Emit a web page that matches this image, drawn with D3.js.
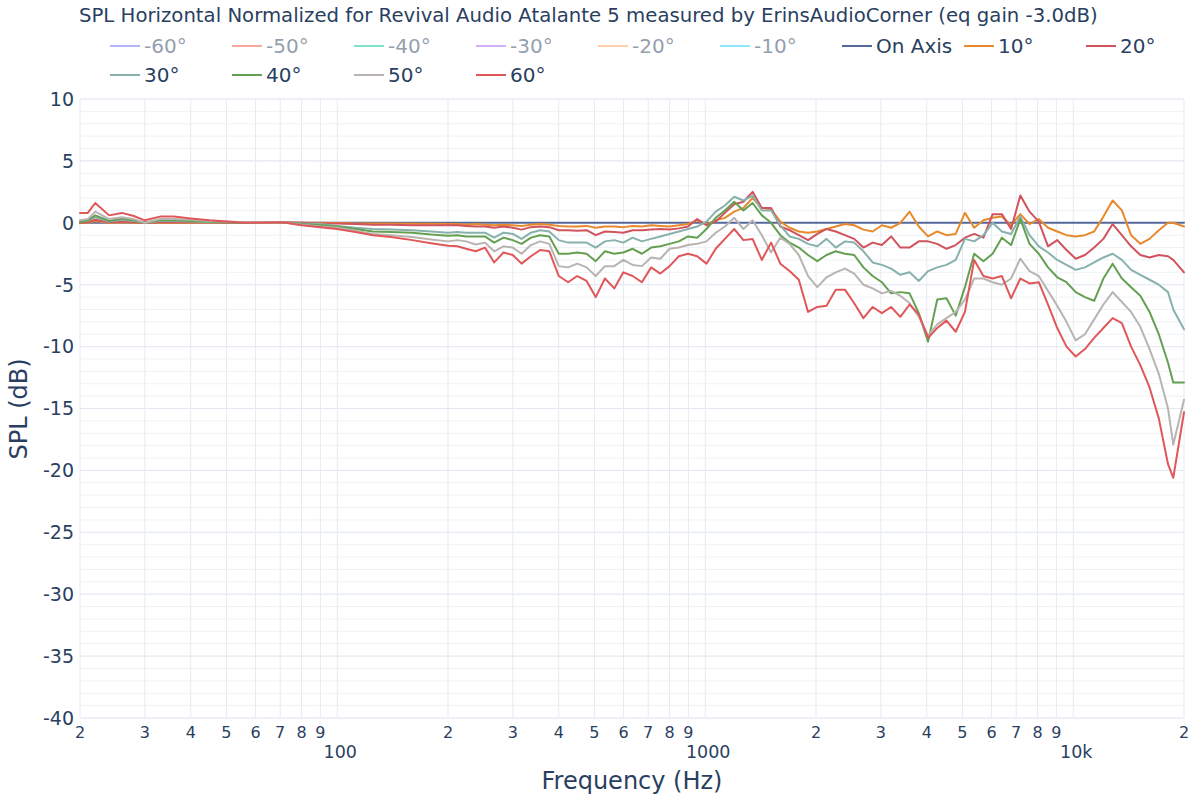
<!DOCTYPE html>
<html><head><meta charset="utf-8">
<script src="https://cdn.jsdelivr.net/npm/d3@7"></script>
<style>
body{margin:0;background:#fff}
svg{display:block;font-family:"DejaVu Sans",Verdana,sans-serif}
</style>
</head><body>
<svg id="chart" width="1200" height="800"></svg>
<script>
// ---- data ----
const freqs = [20,21,22,24,26,28,30,33,36,40,45,50,56,63,71,80,90,100,112,125,140,160,180,
200,212,224,238,252,267,283,300,317,336,356,377,400,424,449,476,504,534,566,599,635,673,713,755,800,848,898,951,1008,1068,1131,1199,1270,1345,1425,1510,1600,1695,1796,1903,2016,2136,2263,2397,2540,2691,2851,3020,3200,3390,3592,3805,4032,4271,4525,4794,5079,5381,5701,6040,6399,6779,7182,7609,8062,8541,9049,9587,10157,10761,11401,12079,12797,13558,14364,15218,16123,17081,18097,18700,20000];

const onAxis = [0,0,0,0,0,0,0,0,0,0,0,0,0,0,0,0,0,0,0,0,0,0,0,
0,0,0,0,0,0,0,0,0,0,0,0,0,0,0,0,0,0,0,0,0,0,0,0,0,0,0,0,0,0,0,0,0,0,0,0,0,0,0,0,0,0,0,0,0,0,0,0,0,0,0,0,0,0,0,0,0,0,0,0,0,0,0,0,0,0,0,0,0,0,0,0,0,0,0,0,0,0,0,0,0];

const deg10 = [0.0,0.0,0.15,0.0,0.05,0.0,0.0,0.0,0.0,0.0,0.0,0.0,0.0,0.0,0.03,0.0,0.0,-0.02,-0.05,-0.05,-0.05,-0.08,-0.08,
-0.1,-0.1,-0.15,-0.1,-0.15,-0.2,-0.15,-0.2,-0.25,-0.15,
-0.1,-0.15,-0.25,-0.3,-0.3,-0.25,-0.4,-0.3,-0.3,-0.35,
-0.25,-0.3,-0.2,-0.25,-0.3,-0.2,-0.1,0.2,-0.15,0.2,
0.4,0.9,1.2,2.0,1.2,1.1,0.1,-0.4,-0.7,-0.8,
-0.7,-0.5,-0.3,-0.1,-0.2,-0.55,-0.7,-0.2,-0.4,0.0,
0.9,-0.3,-1.1,-0.7,-1.0,-0.9,0.8,-0.4,0.2,0.4,
0.5,-0.2,0.7,-0.1,0.3,-0.4,-0.7,-1.0,-1.1,-1.0,
-0.7,0.5,1.8,1.0,-1.0,-1.7,-1.3,-0.6,0.0,0.0,
-0.3];

const deg20 = [0.0,0.05,0.25,0.05,0.1,0.05,0.0,0.05,0.05,0.05,0.05,0.0,0.0,0.0,0.05,0.0,-0.05,-0.05,-0.1,-0.15,-0.15,-0.2,-0.2,
-0.2,-0.2,-0.25,-0.3,-0.3,-0.4,-0.3,-0.4,-0.55,-0.35,
-0.3,-0.35,-0.6,-0.6,-0.65,-0.6,-1.0,-0.7,-0.75,-0.8,
-0.6,-0.6,-0.55,-0.5,-0.55,-0.45,-0.3,0.3,-0.2,0.1,
0.8,1.5,1.7,2.5,1.2,1.2,-0.3,-0.6,-1.0,-1.4,
-0.9,-0.5,-0.7,-1.0,-1.3,-2.0,-1.6,-1.8,-1.1,-2.0,
-2.0,-1.5,-1.5,-1.7,-2.1,-1.8,-1.2,-0.9,-1.2,0.7,
0.7,-0.5,2.2,0.9,0.1,-1.9,-1.4,-2.2,-2.9,-2.6,
-2.0,-1.3,-0.1,-1.0,-1.9,-2.6,-2.8,-2.6,-2.7,-3.0,
-4.0];

const deg30 = [0.1,0.15,0.45,0.1,0.25,0.15,0.0,0.15,0.15,0.1,0.05,0.05,0.0,0.0,0.05,-0.05,-0.1,-0.25,-0.4,-0.5,-0.55,-0.6,-0.7,
-0.8,-0.75,-0.8,-0.8,-0.8,-1.2,-0.8,-0.9,-1.3,-0.8,
-0.6,-0.7,-1.4,-1.6,-1.6,-1.6,-2.0,-1.5,-1.4,-1.6,
-1.2,-1.5,-1.3,-1.1,-0.9,-0.7,-0.5,-0.3,0.1,0.9,
1.4,2.1,1.8,2.2,1.0,1.0,-0.2,-1.1,-1.3,-1.7,
-1.9,-1.3,-2.0,-1.5,-1.6,-2.3,-3.2,-3.4,-3.7,-4.2,
-4.0,-4.7,-3.9,-3.6,-3.4,-3.0,-1.3,-1.5,-1.0,0.0,
-0.7,-0.9,0.5,-1.0,-1.9,-2.4,-3.0,-3.4,-3.8,-3.6,
-3.2,-2.8,-2.5,-3.0,-3.8,-4.2,-4.6,-5.0,-5.6,-7.0,
-8.6];

const deg40 = [0.05,0.2,0.6,0.15,0.35,0.2,0.0,0.2,0.2,0.15,0.1,0.05,0.0,0.0,0.05,-0.1,-0.2,-0.3,-0.5,-0.7,-0.75,-0.8,-0.95,
-1.05,-1.0,-1.1,-1.1,-1.1,-1.6,-1.2,-1.4,-1.7,-1.2,
-1.0,-1.1,-2.5,-2.5,-2.4,-2.5,-3.1,-2.3,-2.5,-2.4,
-2.1,-2.5,-2.0,-1.9,-1.7,-1.5,-1.1,-1.2,-0.5,0.4,
1.0,1.7,1.0,1.6,0.6,0.0,-1.0,-1.6,-2.0,-2.6,
-3.1,-2.6,-2.3,-2.5,-2.6,-3.6,-4.3,-4.8,-5.7,-5.6,
-5.7,-7.3,-9.6,-6.2,-6.1,-7.5,-5.2,-2.5,-3.1,-2.5,
-1.2,-1.8,0.3,-1.7,-2.5,-3.6,-4.4,-4.8,-5.6,-6.0,
-6.3,-4.5,-3.3,-4.5,-5.2,-5.9,-7.2,-9.0,-11.3,-12.9,
-12.9];

const deg50 = [0.2,0.3,0.9,0.3,0.45,0.3,0.0,0.3,0.3,0.25,0.15,0.1,0.05,0.0,0.05,-0.15,-0.3,-0.4,-0.65,-0.9,-1.0,-1.15,-1.35,
-1.5,-1.4,-1.5,-1.75,-1.6,-2.3,-1.9,-2.0,-2.5,-1.8,
-1.5,-1.7,-3.5,-3.6,-3.3,-3.6,-4.3,-3.5,-3.5,-3.0,
-3.4,-3.5,-2.8,-2.9,-2.1,-2.0,-1.8,-1.7,-1.5,-0.8,
-0.3,0.4,-0.5,0.2,-1.0,-2.4,-1.2,-1.7,-2.6,-4.3,
-5.2,-4.4,-4.0,-3.7,-4.1,-5.0,-5.3,-5.7,-5.5,-5.9,
-6.5,-7.6,-9.1,-8.2,-7.7,-7.2,-6.2,-4.5,-4.5,-4.8,
-5.0,-4.5,-2.9,-3.9,-4.3,-5.5,-6.7,-8.0,-9.5,-9.0,
-7.8,-6.6,-5.6,-6.4,-7.2,-8.4,-10.2,-12.2,-15.0,-17.9,
-14.3];

const deg60 = [0.8,0.8,1.6,0.6,0.8,0.55,0.2,0.5,0.5,0.35,0.2,0.1,0.0,0.0,0.05,-0.2,-0.35,-0.5,-0.75,-1.0,-1.15,-1.4,-1.65,
-1.85,-1.9,-2.1,-2.3,-2.0,-3.2,-2.4,-2.6,-3.3,-2.7,
-2.2,-2.3,-4.3,-4.8,-4.3,-4.7,-6.0,-4.5,-5.3,-4.0,
-4.3,-4.8,-3.6,-4.1,-3.5,-2.7,-2.5,-2.7,-3.3,-2.1,
-1.3,-0.5,-1.4,-1.3,-3.0,-1.6,-3.3,-3.9,-4.6,-7.2,
-6.8,-6.7,-5.4,-5.4,-6.5,-7.7,-6.8,-7.3,-6.8,-7.6,
-6.6,-7.4,-9.3,-8.5,-7.9,-8.8,-7.2,-3.0,-4.3,-4.5,
-4.3,-6.1,-4.5,-4.9,-4.8,-6.6,-8.5,-10.0,-10.8,-10.2,
-9.3,-8.5,-7.7,-8.1,-10.0,-11.5,-13.3,-15.8,-19.5,-20.6,
-15.3];

const seriesNames = ["-60°","-50°","-40°","-30°","-20°","-10°","On Axis","10°","20°","30°","40°","50°","60°"];
const seriesColors = ["#636efa","#ef553b","#00cc96","#ab63fa","#ffa15a","#19d3f3","#55699b","#e8892d","#d1535d","#88b1ab","#65a052","#b9b4b2","#e15759"];
const seriesVisible = [false,false,false,false,false,false,true,true,true,true,true,true,true];
const seriesValues = [null,null,null,null,null,null,onAxis,deg10,deg20,deg30,deg40,deg50,deg60];

const xMinorTicks = [20,30,40,50,60,70,80,90,200,300,400,500,600,700,800,900,2000,3000,4000,5000,6000,7000,8000,9000,20000];
const xMinorLabels = ["2","3","4","5","6","7","8","9","2","3","4","5","6","7","8","9","2","3","4","5","6","7","8","9","2"];
const xMajorTicks = [100,1000,10000];
const xMajorLabels = ["100","1000","10k"];
const yTicks = [-40,-35,-30,-25,-20,-15,-10,-5,0,5,10];
const yTickLabels = ["-40","-35","-30","-25","-20","-15","-10","-5","0","5","10"];

const titleText = "SPL Horizontal Normalized for Revival Audio Atalante 5 measured by ErinsAudioCorner (eq gain -3.0dB)";
const xTitle = "Frequency (Hz)";
const yTitle = "SPL (dB)";

// ---- drawing ----
const svg = d3.select("#chart");
const L = 80, R = 1184, T = 99, B = 718;
const textColor = "#2a3f5f";
const x = d3.scaleLog().domain([20, 20000]).range([L, R]);
const y = d3.scaleLinear().domain([-40, 10]).range([B, T]);

const grid = svg.append("g");
grid.selectAll("line.hmin").data(d3.range(-40, 11, 1)).join("line")
  .attr("x1", L).attr("x2", R).attr("y1", d => y(d)).attr("y2", d => y(d))
  .attr("stroke", "#eef2f7").attr("stroke-width", 1);
grid.selectAll("line.hmaj").data(yTicks).join("line")
  .attr("x1", L).attr("x2", R).attr("y1", d => y(d)).attr("y2", d => y(d))
  .attr("stroke", "#e3e9f1").attr("stroke-width", 1);
grid.selectAll("line.v").data(xMinorTicks.concat(xMajorTicks)).join("line")
  .attr("y1", T).attr("y2", B).attr("x1", d => x(d)).attr("x2", d => x(d))
  .attr("stroke", "#e5ebf2").attr("stroke-width", 1);

const line = d3.line().x(d => x(d[0])).y(d => y(d[1]));
const lines = svg.append("g").attr("fill", "none").attr("stroke-width", 2)
  .attr("stroke-linejoin", "round").attr("stroke-linecap", "round");
seriesValues.forEach((vals, i) => {
  if (!vals || !seriesVisible[i]) return;
  lines.append("path").datum(freqs.map((f, j) => [f, vals[j]]))
    .attr("d", line).attr("stroke", seriesColors[i]);
});

svg.append("g").selectAll("text").data(yTicks).join("text")
  .attr("x", 74).attr("y", d => y(d)).attr("dy", "0.36em")
  .attr("text-anchor", "end").attr("font-size", 19).attr("fill", textColor)
  .text((d, i) => yTickLabels[i]);

svg.append("g").selectAll("text").data(xMinorTicks).join("text")
  .attr("x", d => x(d)).attr("y", 738).attr("text-anchor", "middle")
  .attr("font-size", 16).attr("fill", textColor)
  .text((d, i) => xMinorLabels[i]);
svg.append("g").selectAll("text").data(xMajorTicks).join("text")
  .attr("x", d => x(d) + 3).attr("y", 758).attr("text-anchor", "middle")
  .attr("font-size", 17.5).attr("fill", textColor)
  .text((d, i) => xMajorLabels[i]);

svg.append("text").attr("x", 632).attr("y", 789).attr("text-anchor", "middle")
  .attr("font-size", 24).attr("fill", textColor).text(xTitle);
svg.append("text").attr("transform", "translate(27,409) rotate(-90)")
  .attr("text-anchor", "middle").attr("font-size", 24).attr("fill", textColor).text(yTitle);

svg.append("text").attr("x", 79).attr("y", 22).attr("font-size", 19.7)
  .attr("fill", textColor).text(titleText);

const leg = svg.append("g");
seriesNames.forEach((name, i) => {
  const col = i % 9, row = Math.floor(i / 9);
  const lx = 110 + col * 122, ly = 46 + row * 29;
  const g = leg.append("g").attr("opacity", seriesVisible[i] ? 1 : 0.5);
  g.append("line").attr("x1", lx).attr("x2", lx + 30).attr("y1", ly).attr("y2", ly)
    .attr("stroke", seriesColors[i]).attr("stroke-width", 2);
  g.append("text").attr("x", lx + 34).attr("y", ly).attr("dy", "0.36em")
    .attr("font-size", 20).attr("fill", textColor).text(name);
});
</script>
</body></html>
